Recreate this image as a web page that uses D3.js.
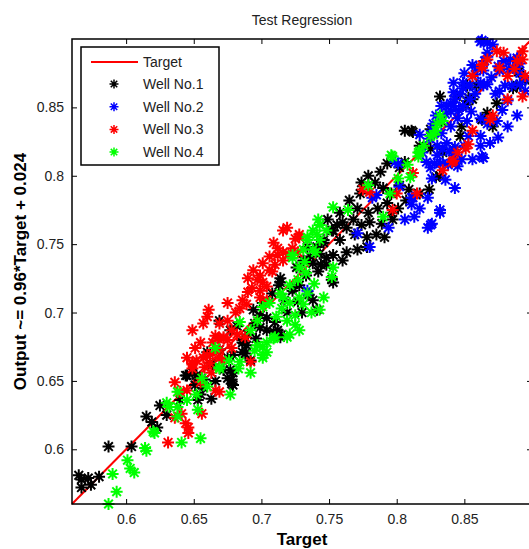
<!DOCTYPE html>
<html>
<head>
<meta charset="utf-8">
<script src="https://cdn.jsdelivr.net/npm/d3@7"></script>
<style>
  body { margin: 0; background: #fff; }
  svg { display: block; font-family: "Liberation Sans", Arial, sans-serif; }
</style>
</head>
<body>
<svg id="chart"></svg>
<script>
// Chart data (Target, Output) pairs
const well1 = [[0.565,0.581],[0.567,0.578],[0.567,0.572],[0.572,0.579],[0.574,0.574],[0.580,0.580],[0.587,0.602],[0.604,0.602],[0.615,0.624],[0.619,0.620],[0.625,0.632],[0.630,0.625],[0.623,0.616],
  [0.644,0.654],[0.649,0.656],[0.651,0.647],[0.655,0.640],[0.653,0.636],[0.663,0.637],[0.658,0.651],[0.660,0.671],[0.675,0.652],[0.678,0.651],[0.679,0.647],[0.686,0.678],[0.689,0.676],[0.677,0.658],[0.672,0.658],
  [0.669,0.694],[0.677,0.687],[0.694,0.702],[0.699,0.698],[0.714,0.725],[0.713,0.720],[0.708,0.714],[0.723,0.716],[0.728,0.720],[0.731,0.738],[0.738,0.736],[0.743,0.743],[0.748,0.740],[0.752,0.724],[0.753,0.760],[0.746,0.753],[0.741,0.748],[0.734,0.748],[0.738,0.709],[0.741,0.702],[0.730,0.700],[0.719,0.700],[0.710,0.693],[0.704,0.687],[0.695,0.692],[0.690,0.684],[0.686,0.680],[0.709,0.686],[0.714,0.682],[0.686,0.671],[0.675,0.667],[0.679,0.669],[0.662,0.663],[0.692,0.665],
  [0.645,0.654],[0.652,0.654],[0.679,0.656],[0.678,0.648],[0.664,0.662],[0.699,0.689],[0.712,0.687],[0.701,0.707],[0.714,0.722],[0.723,0.718],[0.726,0.733],[0.715,0.684],[0.688,0.670],[0.669,0.673],
  [0.733,0.727],[0.727,0.708],[0.717,0.709],[0.704,0.696],[0.696,0.681],[0.744,0.735],[0.735,0.713],[0.682,0.690],[0.657,0.645],[0.640,0.636],[0.666,0.650],
  [0.817,0.822],[0.802,0.806],[0.806,0.810],[0.793,0.809],[0.788,0.803],[0.779,0.800],[0.784,0.795],[0.774,0.795],[0.773,0.787],[0.765,0.782],[0.771,0.776],[0.779,0.773],[0.786,0.776],[0.793,0.780],[0.796,0.773],[0.801,0.776],[0.797,0.768],[0.789,0.765],[0.780,0.766],[0.774,0.764],[0.768,0.768],[0.760,0.766],[0.758,0.773],[0.763,0.762],[0.756,0.764],[0.752,0.760],[0.749,0.768],[0.769,0.757],[0.778,0.755],[0.785,0.757],[0.791,0.755],[0.778,0.748],[0.771,0.746],[0.763,0.744],[0.758,0.753],[0.760,0.738],[0.753,0.742],[0.746,0.751],[0.748,0.735],[0.753,0.722],[0.742,0.730],[0.736,0.741],[0.802,0.793],[0.809,0.790],[0.807,0.782],[0.817,0.787],[0.824,0.790],[0.829,0.799],[0.832,0.800],[0.790,0.791],[0.796,0.787],
  [0.852,0.866],[0.859,0.866],[0.853,0.857],[0.851,0.852],[0.832,0.858],[0.844,0.858],[0.856,0.856],[0.889,0.866],[0.886,0.864],[0.874,0.853],[0.867,0.846],[0.863,0.841],[0.871,0.836],[0.848,0.836],[0.847,0.829],[0.833,0.840],[0.825,0.834],[0.806,0.833],[0.811,0.833],[0.842,0.819],[0.825,0.820],[0.834,0.817],[0.812,0.832],[0.890,0.876],[0.895,0.870]]

const well2 = [[0.734,0.716],[0.771,0.758],[0.780,0.748],[0.802,0.792],[0.812,0.784],[0.817,0.776],[0.806,0.768],[0.813,0.770],[0.825,0.764],[0.832,0.775],[0.794,0.762],[0.785,0.786],[0.799,0.810],[0.801,0.809],
  [0.830,0.822],[0.834,0.820],[0.843,0.821],[0.850,0.822],[0.842,0.815],[0.838,0.808],[0.832,0.809],[0.826,0.798],[0.836,0.797],[0.843,0.791],[0.811,0.784],[0.823,0.784],[0.823,0.762],[0.826,0.765],[0.782,0.784],[0.832,0.773],[0.811,0.779],
  [0.862,0.898],[0.867,0.897],[0.871,0.896],[0.863,0.899],[0.867,0.890],[0.865,0.884],[0.859,0.879],[0.864,0.877],[0.858,0.874],[0.862,0.868],[0.854,0.866],[0.849,0.864],[0.847,0.860],[0.843,0.856],[0.840,0.853],[0.837,0.851],[0.842,0.851],[0.849,0.851],[0.854,0.856],[0.864,0.866],[0.867,0.867],[0.875,0.880],[0.876,0.877],[0.879,0.884],[0.884,0.885],[0.889,0.886],[0.891,0.882],[0.886,0.879],[0.891,0.875],[0.896,0.871],[0.891,0.867],[0.895,0.862],[0.885,0.866],[0.880,0.866],[0.876,0.862],[0.873,0.860],[0.882,0.855],[0.889,0.844],[0.882,0.836],[0.874,0.840],[0.867,0.838],[0.869,0.824],[0.862,0.822],[0.864,0.813],[0.856,0.812],[0.862,0.829],[0.862,0.842],[0.852,0.840],[0.845,0.842],[0.840,0.847],[0.833,0.851],[0.840,0.836],[0.833,0.831],[0.827,0.838],[0.829,0.844],[0.817,0.830],[0.824,0.827],[0.837,0.824],[0.839,0.818],[0.848,0.812],[0.845,0.807],[0.834,0.809],[0.828,0.809],[0.822,0.810],[0.825,0.806],[0.849,0.868],[0.842,0.868],[0.850,0.875],[0.875,0.828],[0.863,0.814],[0.826,0.833],[0.842,0.861],[0.856,0.881],[0.867,0.887],
  [0.836,0.845],[0.846,0.848],[0.855,0.847],[0.858,0.860],[0.870,0.872],[0.883,0.878],[0.878,0.848],[0.819,0.817],[0.830,0.815],[0.853,0.829]]

const well3 = [[0.631,0.605],[0.646,0.612],[0.656,0.626],[0.646,0.616],[0.644,0.619],[0.636,0.623],[0.641,0.626],[0.636,0.649],[0.640,0.642],[0.649,0.662],[0.652,0.665],[0.655,0.678],[0.651,0.674],[0.660,0.669],[0.662,0.663],[0.664,0.678],[0.668,0.681],[0.669,0.673],[0.672,0.682],[0.675,0.680],[0.682,0.684],[0.688,0.682],[0.692,0.664],[0.666,0.643],[0.669,0.642],[0.649,0.687],
  [0.645,0.643],[0.655,0.649],[0.649,0.659],[0.663,0.656],[0.669,0.667],[0.658,0.660],[0.645,0.667],[0.678,0.674],
  [0.719,0.762],[0.716,0.760],[0.728,0.757],[0.725,0.754],[0.709,0.751],[0.712,0.747],[0.716,0.744],[0.720,0.743],[0.723,0.747],[0.727,0.744],[0.712,0.742],[0.716,0.738],[0.710,0.735],[0.706,0.731],[0.699,0.727],[0.697,0.724],[0.701,0.722],[0.690,0.725],[0.704,0.719],[0.699,0.716],[0.690,0.715],[0.686,0.709],[0.684,0.703],[0.675,0.707],[0.689,0.706],[0.661,0.702],[0.660,0.697],[0.657,0.692],[0.669,0.692],[0.675,0.694],[0.678,0.687],[0.666,0.683],[0.672,0.681],[0.657,0.667],[0.664,0.670],[0.649,0.663],[0.671,0.665],[0.699,0.711],[0.704,0.709],[0.701,0.736],[0.708,0.730],
  [0.694,0.731],[0.706,0.741],[0.693,0.718],[0.681,0.700],
  [0.780,0.788],[0.845,0.817],[0.834,0.804],[0.812,0.802],[0.815,0.787],[0.797,0.775],[0.775,0.790],[0.728,0.755],[0.800,0.787],[0.841,0.810],
  [0.874,0.891],[0.879,0.890],[0.893,0.891],[0.867,0.885],[0.863,0.879],[0.876,0.879],[0.889,0.884],[0.893,0.885],[0.882,0.873],[0.895,0.873],[0.856,0.873],[0.893,0.858],[0.882,0.856],[0.871,0.844],[0.869,0.841],[0.856,0.833],[0.853,0.823],[0.851,0.820],[0.842,0.811],[0.887,0.878],[0.863,0.881]]

const well4 = [[0.590,0.582],[0.593,0.569],[0.587,0.560],[0.601,0.592],[0.603,0.586],[0.606,0.583],[0.615,0.599],[0.621,0.612],[0.630,0.634],[0.641,0.605],[0.655,0.608],[0.677,0.640],
  [0.614,0.601],[0.620,0.613],[0.632,0.631],[0.638,0.631],[0.638,0.624],[0.653,0.629],[0.652,0.640],[0.656,0.652],[0.669,0.659],[0.683,0.659],[0.692,0.656],[0.701,0.667],[0.704,0.678],[0.709,0.681],[0.697,0.676],[0.638,0.642],
  [0.743,0.764],[0.748,0.760],[0.741,0.757],[0.734,0.753],[0.738,0.746],[0.723,0.742],[0.728,0.733],[0.733,0.729],[0.721,0.720],[0.714,0.714],[0.716,0.711],[0.721,0.707],[0.728,0.711],[0.734,0.714],[0.731,0.706],[0.737,0.700],[0.743,0.702],[0.746,0.711],[0.725,0.698],[0.719,0.694],[0.725,0.691],[0.728,0.687],[0.721,0.684],[0.710,0.682],[0.701,0.675],[0.704,0.671],[0.701,0.669],[0.684,0.693],[0.692,0.687],[0.697,0.694],[0.701,0.704],[0.706,0.707],[0.684,0.664],[0.666,0.674],[0.669,0.660],[0.715,0.703],[0.719,0.682],[0.732,0.737],[0.723,0.740],
  [0.711,0.697],[0.727,0.724],[0.739,0.721],[0.695,0.672],[0.676,0.665],[0.660,0.646],[0.645,0.636],
  [0.796,0.815],[0.816,0.817],[0.808,0.808],[0.810,0.799],[0.801,0.798],[0.795,0.787],[0.779,0.793],[0.790,0.770],[0.764,0.775],[0.753,0.777],[0.742,0.768],[0.738,0.760],[0.734,0.755],[0.743,0.753],[0.740,0.744],[0.753,0.733],[0.752,0.726],[0.731,0.746],
  [0.832,0.844],[0.834,0.840],[0.830,0.838],[0.827,0.830],[0.825,0.829],[0.817,0.818],[0.816,0.814],[0.797,0.814],[0.829,0.833],[0.820,0.822]]

const seriesNames = ["Well No.1", "Well No.2", "Well No.3", "Well No.4"]
const seriesColors = ["#000000", "#0000ff", "#ff0000", "#00ff00"]
const seriesData = [well1, well2, well3, well4]
const xTicks = [0.6, 0.65, 0.7, 0.75, 0.8, 0.85]
const yTicks = [0.6, 0.65, 0.7, 0.75, 0.8, 0.85]
const axisDomain = [0.56, 0.9]

const W = 529, H = 549
const margin = { top: 39, left: 72 }
const width = 460
const height = 465

const svg = d3.select("#chart").attr("width", W).attr("height", H)

const x = d3.scaleLinear().domain(axisDomain).range([0, width])
const y = d3.scaleLinear().domain(axisDomain).range([height, 0])

const chart = svg.append("g")
  .attr("transform", `translate(${margin.left},${margin.top})`)

// asterisk marker like matlab '*'
function star(g, r, color, sw) {
  const d = r * 0.72
  g.append("path")
    .attr("d", `M${-r},0H${r}M0,${-r}V${r}M${-d},${-d}L${d},${d}M${-d},${d}L${d},${-d}`)
    .attr("stroke", color)
    .attr("stroke-width", sw)
    .attr("fill", "none")
}

// target line
chart.append("line")
  .attr("x1", x(axisDomain[0])).attr("y1", y(axisDomain[0]))
  .attr("x2", x(axisDomain[1])).attr("y2", y(axisDomain[1]))
  .attr("stroke", "#ff0000")
  .attr("stroke-width", 2)

// points
seriesData.forEach((data, i) => {
  chart.append("g").selectAll("g")
    .data(data)
    .enter()
    .append("g")
    .attr("transform", d => `translate(${x(d[0])},${y(d[1])})`)
    .each(function() { star(d3.select(this), 6, seriesColors[i], 2) })
})

// axes, ticks inside, mirrored
const tickLen = 5
chart.append("g")
  .attr("transform", `translate(0,${height})`)
  .call(d3.axisBottom(x).tickValues(xTicks).tickSizeInner(-tickLen).tickSizeOuter(0).tickPadding(10).tickFormat(d3.format("")))
chart.append("g")
  .call(d3.axisTop(x).tickValues(xTicks).tickSizeInner(-tickLen).tickSizeOuter(0).tickFormat(""))
chart.append("g")
  .call(d3.axisLeft(y).tickValues(yTicks).tickSizeInner(-tickLen).tickSizeOuter(0).tickPadding(8).tickFormat(d3.format("")))
chart.append("g")
  .attr("transform", `translate(${width},0)`)
  .call(d3.axisRight(y).tickValues(yTicks).tickSizeInner(-tickLen).tickSizeOuter(0).tickFormat(""))

chart.selectAll(".domain").remove()
chart.selectAll(".tick line").attr("stroke", "#000").attr("stroke-width", 1)
chart.selectAll(".tick text").style("font-size", "14px").attr("fill", "#222")

chart.append("rect")
  .attr("width", width).attr("height", height)
  .attr("fill", "none").attr("stroke", "#000").attr("stroke-width", 1.5)

// title and labels
svg.append("text")
  .attr("x", margin.left + width / 2).attr("y", 25)
  .attr("text-anchor", "middle")
  .style("font-size", "14px")
  .attr("fill", "#222")
  .text("Test Regression")

svg.append("text")
  .attr("x", margin.left + width / 2).attr("y", 545)
  .attr("text-anchor", "middle")
  .style("font-size", "17px").style("font-weight", "bold")
  .text("Target")

svg.append("text")
  .attr("transform", `translate(26,${margin.top + height / 2}) rotate(-90)`)
  .attr("text-anchor", "middle")
  .style("font-size", "17px").style("font-weight", "bold")
  .text("Output ~= 0.96*Target + 0.024")

// legend
const legend = svg.append("g").attr("transform", "translate(81,47)")
legend.append("rect")
  .attr("width", 138).attr("height", 118)
  .attr("fill", "#fff").attr("stroke", "#000").attr("stroke-width", 1.5)

legend.append("line")
  .attr("x1", 10).attr("x2", 57).attr("y1", 15).attr("y2", 15)
  .attr("stroke", "#ff0000").attr("stroke-width", 2)
legend.append("text")
  .attr("x", 62).attr("y", 20)
  .style("font-size", "14px").attr("fill", "#222")
  .text("Target")

seriesNames.forEach((name, i) => {
  const row = legend.append("g").attr("transform", `translate(0,${37 + i * 22.7})`)
  star(row.append("g").attr("transform", "translate(33,0)"), 4.5, seriesColors[i], 1.5)
  row.append("text")
    .attr("x", 62).attr("y", 5)
    .style("font-size", "14px").attr("fill", "#222")
    .text(name)
})
</script>
</body>
</html>
